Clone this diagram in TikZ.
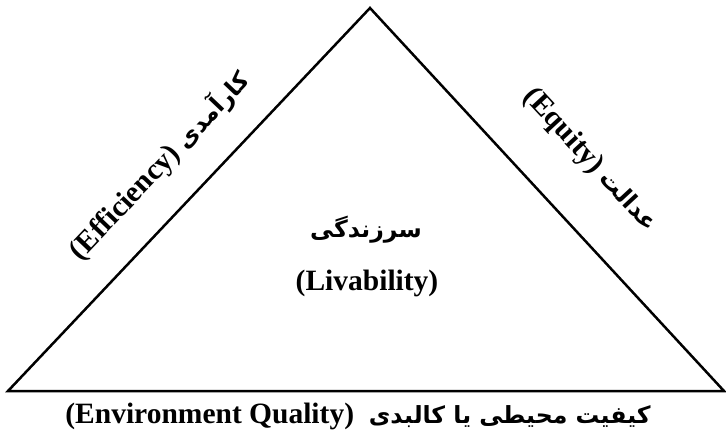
\documentclass[tikz,border=0pt]{standalone}
\usepackage{fontspec}
\setmainfont{Liberation Serif}
\newfontfamily\fafont[Script=Arabic,Scale=0.8]{DejaVu Sans}
\TeXXeTstate=1
\newcommand{\fa}[1]{{\fafont\bfseries\beginR #1\endR}}

\begin{document}
\begin{tikzpicture}[x=1pt, y=-1pt, every node/.style={font=\bfseries\fontsize{29.5}{34}\selectfont, inner sep=0pt}]
  \useasboundingbox (0,0) rectangle (726,434);
  \coordinate (top) at (370,8);
  \coordinate (left) at (8,391);
  \coordinate (right) at (724,391);
  \draw[line width=2.5pt] (left) -- (top) -- (right) -- cycle;
  \node [rotate=46.5] (eff) at (160,166) {(Efficiency) \fa{کارآمدی}};
  \node [rotate=-47.2] (equ) at (590,160) {(Equity) \fa{عدالت}};
  \node [anchor=base] (liv1) at (366,237) {\fa{سرزندگی}};
  \node [anchor=base] (liv2) at (367,290) {(Livability)};
  \node [anchor=base] (env) at (358,423) {(Environment Quality)\ \ \fa{کیفیت محیطی یا کالبدی}};
\end{tikzpicture}
\end{document}
